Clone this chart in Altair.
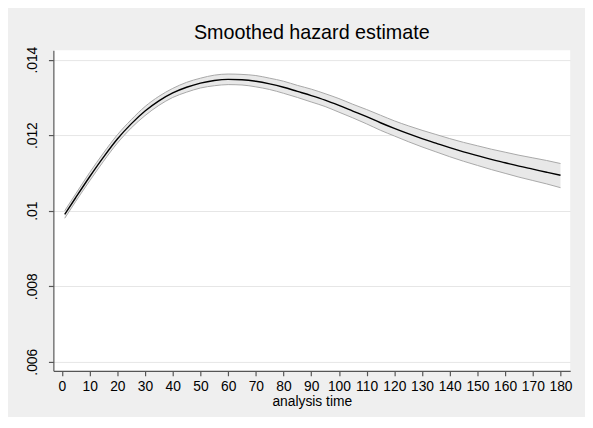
import altair as alt
import pandas as pd

# analysis time
t = [1, 5, 10, 15, 20, 25, 30, 35, 40, 45, 50, 55, 60, 65, 70, 75, 80, 85, 90,
     95, 100, 105, 110, 115, 120, 125, 130, 135, 140, 145, 150, 155, 160, 165,
     170, 175, 180]
# smoothed hazard estimate
est = [0.00990, 0.01035, 0.01090, 0.01142, 0.01190, 0.01230, 0.01264, 0.01291,
       0.01312, 0.01327, 0.01338, 0.01345, 0.01348, 0.01347, 0.01343, 0.01336,
       0.01327, 0.01316, 0.01305, 0.01293, 0.01279, 0.01264, 0.01249, 0.01233,
       0.01218, 0.01204, 0.01191, 0.01179, 0.01167, 0.01156, 0.01146, 0.01136,
       0.01127, 0.01118, 0.01110, 0.01102, 0.01094]
# confidence band
lower = [0.00980, 0.01025, 0.01079, 0.01131, 0.01179, 0.01219, 0.01252, 0.01279,
         0.01300, 0.01314, 0.01325, 0.01331, 0.01334, 0.01333, 0.01328, 0.01321,
         0.01311, 0.01300, 0.01288, 0.01276, 0.01261, 0.01246, 0.01230, 0.01213,
         0.01198, 0.01183, 0.01169, 0.01156, 0.01143, 0.01131, 0.01120, 0.01109,
         0.01099, 0.01089, 0.01080, 0.01071, 0.01061]
upper = [0.01000, 0.01045, 0.01101, 0.01153, 0.01201, 0.01241, 0.01276, 0.01303,
         0.01324, 0.01340, 0.01351, 0.01359, 0.01362, 0.01361, 0.01358, 0.01351,
         0.01343, 0.01332, 0.01322, 0.01310, 0.01297, 0.01282, 0.01268, 0.01253,
         0.01238, 0.01225, 0.01213, 0.01202, 0.01191, 0.01181, 0.01172, 0.01163,
         0.01155, 0.01147, 0.01140, 0.01133, 0.01125]

x_ticks = list(range(0, 181, 10))
y_ticks = [0.006, 0.008, 0.010, 0.012, 0.014]

df = pd.DataFrame({"t": t, "est": est, "lower": lower, "upper": upper})

FONT = "Liberation Sans"

xscale = alt.Scale(domain=[-3.1, 183.5], nice=False, zero=False)
yscale = alt.Scale(domain=[0.00576, 0.01425], nice=False, zero=False)

xaxis = alt.Axis(values=x_ticks, title="analysis time", grid=False,
                 tickSize=5, labelPadding=4, titlePadding=1, labelOverlap=False)
yaxis = alt.Axis(values=y_ticks, title=None, grid=True, gridColor="#E6E6E6",
                 tickSize=5, labelAngle=-90, labelPadding=9, labelOverlap=False,
                 labelExpr="slice(format(datum.value, '.3~f'), 1)")

X = alt.X("t:Q", scale=xscale, axis=xaxis)

base = alt.Chart(df)

band = base.mark_area(color="#E8E8E8", opacity=1, interpolate="monotone").encode(
    x=X,
    y=alt.Y("lower:Q", scale=yscale, axis=yaxis),
    y2="upper:Q",
)
lo_line = base.mark_line(color="#A8A8A8", strokeWidth=1, interpolate="monotone").encode(
    x=X, y=alt.Y("lower:Q", scale=yscale, axis=yaxis))
hi_line = base.mark_line(color="#A8A8A8", strokeWidth=1, interpolate="monotone").encode(
    x=X, y=alt.Y("upper:Q", scale=yscale, axis=yaxis))
main = base.mark_line(color="black", strokeWidth=1.4, interpolate="monotone").encode(
    x=X, y=alt.Y("est:Q", scale=yscale, axis=yaxis))

chart = alt.layer(band, lo_line, hi_line, main).properties(
    width=524, height=325,
    title=alt.TitleParams("Smoothed hazard estimate", fontSize=20, font=FONT,
                          fontWeight="normal", color="#000000", offset=3,
                          anchor="middle"),
    autosize=alt.AutoSizeParams(type="none"),
    padding={"left": 46, "top": 40, "right": 15, "bottom": 44},
    background="#EFEFEF",
).configure_view(
    stroke=None, fill="white"
).configure_axis(
    labelFont=FONT, titleFont=FONT, labelFontSize=14, titleFontSize=14,
    labelColor="#000000", titleColor="#000000", titleFontWeight="normal",
    domainColor="#555555", tickColor="#555555", domainWidth=1.2, tickWidth=1.2,
)

chart.save("out.html", embed_options={"renderer": "svg", "actions": False})
